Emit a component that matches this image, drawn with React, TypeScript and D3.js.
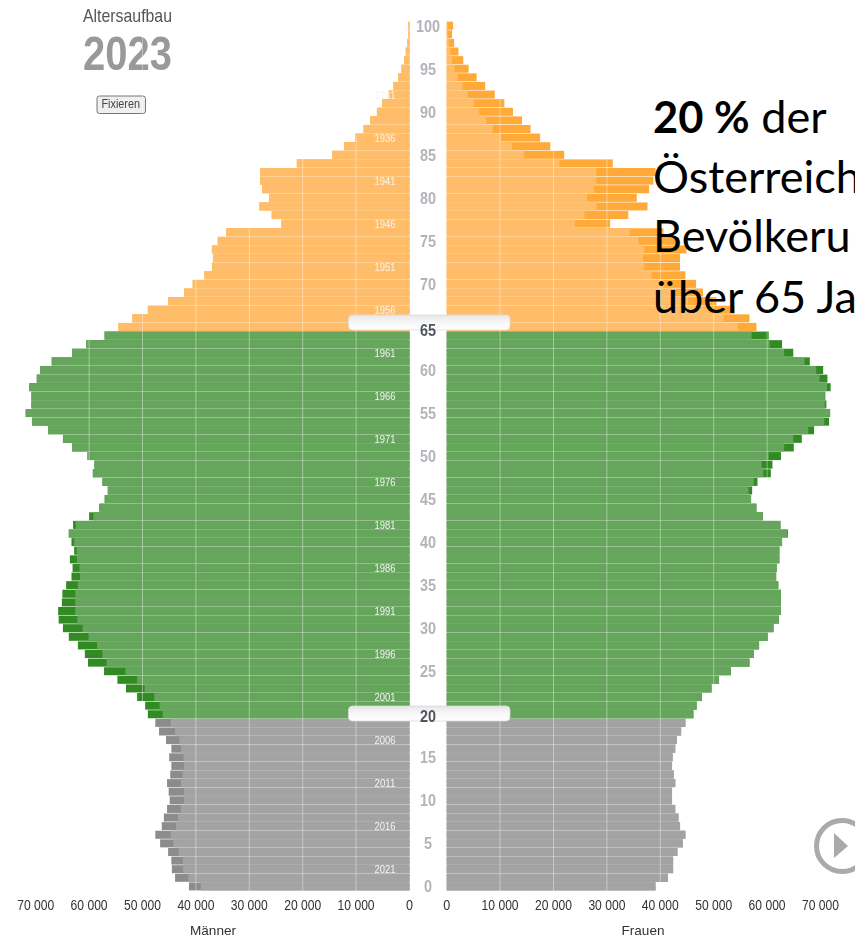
import React from "react";
import * as d3 from "d3";

// Values listed from age 0 upward to age 100
const men = [41300,43900,44500,44600,45200,46700,47600,46400,46000,45400,44900,45100,45400,44800,44600,45000,44600,45600,46900,47600,49000,49500,51000,53100,54700,57200,60200,60800,62100,63800,64900,65700,65800,65100,65000,64300,63300,63100,63600,62800,63300,63800,63000,60000,58100,57100,56500,57500,59300,59000,60300,63200,64900,67700,70700,71900,70800,70800,71200,69800,69200,67000,63200,60500,57100,54500,51900,49000,45200,42200,40600,38400,37000,36800,37000,35900,34300,24000,25800,28100,26300,27600,28000,28000,21100,14500,12200,10200,8600,7400,6100,5100,3900,3000,2100,1500,1000,700,400,200,200];
const women = [39100,41400,42400,42400,43200,44200,44700,43700,43400,42800,42200,42200,42800,42500,42200,42300,42800,43100,43900,44700,46200,46800,47800,49600,51000,53200,56700,57500,58500,60100,61200,62200,62600,62600,62600,62100,61700,61800,62300,62300,62800,63900,62500,59200,58000,57000,57200,58200,60700,61000,62600,65000,66500,68800,71600,71800,71100,70900,71900,71300,70500,68000,64900,62800,60300,58000,56700,53900,50500,48000,46700,44700,43700,43700,44900,43400,40600,30600,34000,37600,35600,37900,38700,39100,31100,22000,19400,17500,15700,14100,12400,10800,9000,7200,5600,4100,3100,2200,1400,1000,1200];
const xTickValues = [0,10000,20000,30000,40000,50000,60000,70000];
const ageTicks = [0,5,10,15,20,25,30,35,40,45,50,55,60,65,70,75,80,85,90,95,100];
const cohortYears = [1931,1936,1941,1946,1951,1956,1961,1966,1971,1976,1981,1986,1991,1996,2001,2006,2011,2016,2021];
const highlightedAges = [20,65];
const captionLines = ["Österreich","Bevölkeru","über 65 Ja"];

const ages = d3.range(0, 101);
const censusYear = 2023;
const xLeft = d3.scaleLinear().domain([0, 70000]).range([409.5, 35.7]);
const xRight = d3.scaleLinear().domain([0, 70000]).range([446.7, 820.5]);
const y = d3.scaleBand<number>().domain([...ages].reverse()).range([21.7, 891]).paddingInner(0);
const fmt = (v: number) => d3.format(",")(v).replace(",", " ");

const groupOf = (a: number) => (a >= 65 ? "old" : a >= 20 ? "mid" : "young");
const lightFill: Record<string, string> = { old: "#ffbd69", mid: "#65a65c", young: "#a3a3a3" };
const darkFill: Record<string, string> = { old: "#ffa938", mid: "#338a24", young: "#8c8c8c" };
const ageOffset: Record<number, number> = { 65: 3, 20: 2 };

const sans = "'Liberation Sans', Arial, sans-serif";

function Handle({ yTop }: { yTop: number }) {
  return (
    <rect x={348.5} y={yTop} width={161.5} height={15} rx={4} fill="url(#handleGrad)" stroke="#dcdcdc" strokeWidth={0.8} />
  );
}

export default function App() {
  const h = y.bandwidth();
  return (
    <svg width={855} height={938} viewBox="0 0 855 938" style={{ position: "absolute", left: 0, top: 0, background: "#fff" }}>
      <defs>
        <linearGradient id="handleGrad" x1="0" y1="0" x2="0" y2="1">
          <stop offset="0" stopColor="#e6e6e6" />
          <stop offset="0.5" stopColor="#f8f8f8" />
          <stop offset="1" stopColor="#ffffff" />
        </linearGradient>
        <filter id="soft" x="-2%" y="-2%" width="104%" height="104%">
          <feGaussianBlur stdDeviation="0.4" />
        </filter>
      </defs>
      <g filter="url(#soft)">
        <text x={83} y={22} fontFamily={sans} fontSize={19} fill="#555" textLength={89} lengthAdjust="spacingAndGlyphs">Altersaufbau</text>
        <text x={83} y={70} fontFamily={sans} fontSize={48} fontWeight={700} fill="#999" textLength={89} lengthAdjust="spacingAndGlyphs">{censusYear}</text>
        <rect x={97} y={96} width={48.5} height={17.5} rx={2.5} fill="#efefef" stroke="#777" strokeWidth={1} />
        <text x={101.5} y={108} fontFamily={sans} fontSize={12} fill="#444" textLength={38.5} lengthAdjust="spacingAndGlyphs">Fixieren</text>

        {ages.map((a) => {
          const m = men[a], w = women[a], lo = Math.min(m, w), g = groupOf(a), yy = y(a)!;
          return (
            <g key={a}>
              <rect x={xLeft(m)} y={yy} width={xLeft(0) - xLeft(m)} height={h - 0.6} fill={darkFill[g]} />
              <rect x={xLeft(lo)} y={yy} width={xLeft(0) - xLeft(lo)} height={h - 0.6} fill={lightFill[g]} />
              <rect x={xRight(0)} y={yy} width={xRight(w) - xRight(0)} height={h - 0.6} fill={darkFill[g]} />
              <rect x={xRight(0)} y={yy} width={xRight(lo) - xRight(0)} height={h - 0.6} fill={lightFill[g]} />
            </g>
          );
        })}

        {xTickValues.slice(1, 6).map((t) => (
          <g key={t} stroke="#fff" strokeOpacity={0.4} strokeWidth={1}>
            <line x1={xLeft(t)} x2={xLeft(t)} y1={21.7} y2={891} />
            <line x1={xRight(t)} x2={xRight(t)} y1={21.7} y2={891} />
          </g>
        ))}
        <line x1={xRight(60000)} x2={xRight(60000)} y1={332} y2={500} stroke="#fff" strokeOpacity={0.4} />
        <line x1={xLeft(60000)} x2={xLeft(60000)} y1={340} y2={500} stroke="#fff" strokeOpacity={0.4} />

        {cohortYears.map((yr) => (
          <text key={yr} x={385} y={y(censusYear - yr)! + h / 2 + 4} textAnchor="middle" fontFamily={sans} fontSize={11.5} fill="#f4f4f4" textLength={21} lengthAdjust="spacingAndGlyphs">{yr}</text>
        ))}

        {ageTicks.filter((a) => !highlightedAges.includes(a)).map((a) => {
          const s = String(a);
          return (
            <text key={a} x={428} y={y(a)! + h / 2 + 5.5} textAnchor="middle" fontFamily={sans} fontWeight={700} fontSize={16.5} fill="#b2b4ba" textLength={s.length * 8} lengthAdjust="spacingAndGlyphs">{s}</text>
          );
        })}

        <Handle yTop={315} />
        <Handle yTop={706} />
        {highlightedAges.map((a) => (
          <text key={a} x={428} y={y(a)! + h / 2 + 5.5 + ageOffset[a]} textAnchor="middle" fontFamily={sans} fontWeight={700} fontSize={16.5} fill="#50555c" textLength={16} lengthAdjust="spacingAndGlyphs">{a}</text>
        ))}

        {xTickValues.map((t) => (
          <g key={t} fontFamily={sans} fontSize={14.5} fill="#333" textAnchor="middle">
            <text x={xLeft(t)} y={910} textLength={t ? 37 : 7} lengthAdjust="spacingAndGlyphs">{fmt(t)}</text>
            <text x={xRight(t)} y={910} textLength={t ? 37 : 7} lengthAdjust="spacingAndGlyphs">{fmt(t)}</text>
          </g>
        ))}
        <text x={213} y={935} textAnchor="middle" fontFamily={sans} fontSize={13} fill="#333" textLength={46} lengthAdjust="spacingAndGlyphs">Männer</text>
        <text x={643} y={935} textAnchor="middle" fontFamily={sans} fontSize={13} fill="#333" textLength={43} lengthAdjust="spacingAndGlyphs">Frauen</text>

        <circle cx={842} cy={846} r={25.5} fill="none" stroke="#aaa" strokeWidth={5} />
        <path d={d3.line()([[834, 833], [848, 846], [834, 858]])! + "Z"} fill="#aaa" />
      </g>

      <g fontFamily="Lato, 'Open Sans', sans-serif" fontSize={45} fill="#000">
        <text x={653} y={133}><tspan fontWeight={700} fontSize={43.5}>20 %</tspan> der</text>
        <text x={653} y={193}>{captionLines[0]}</text>
        <text x={653} y={252}>{captionLines[1]}</text>
        <text x={653} y={313}>{captionLines[2]}</text>
      </g>
    </svg>
  );
}
